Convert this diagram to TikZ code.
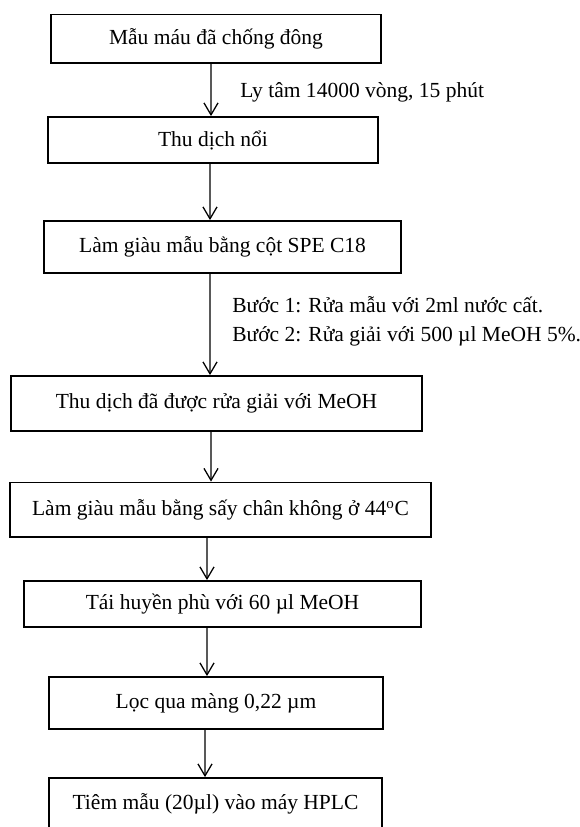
\documentclass[tikz,border=0pt]{standalone}
\usepackage{fontspec}
\setmainfont{Liberation Serif}
\usetikzlibrary{arrows.meta}

\begin{document}
\begin{tikzpicture}[x=1cm, y=1cm,
    stepbox/.style={draw, line width=1.3pt, inner sep=0pt, font=\fontsize{15.3pt}{18pt}\selectfont},
    note/.style={inner sep=0pt, anchor=west, align=left, font=\fontsize{15.3pt}{20.6pt}\selectfont},
    arr/.style={-{Straight Barb[length=8.5pt, width=10pt]}, line width=0.9pt}]
    % Page frame, the last box runs off the bottom
    \clip (0,0) rectangle (14.5,-20.675);
    % Draw process steps
    \node [stepbox, minimum width=8.25cm, minimum height=1.21cm] (b1) at (5.4,-0.969) {Mẫu máu đã chống đông};
    \node [stepbox, minimum width=8.25cm, minimum height=1.15cm] (b2) at (5.325,-3.5) {Thu dịch nổi};
    \node [stepbox, minimum width=8.925cm, minimum height=1.3cm] (b3) at (5.5625,-6.175) {Làm giàu mẫu bằng cột SPE C18};
    \node [stepbox, minimum width=10.275cm, minimum height=1.375cm] (b4) at (5.4125,-10.0875) {Thu dịch đã được rửa giải với MeOH};
    \node [stepbox, minimum width=10.525cm, minimum height=1.3625cm] (b5) at (5.5125,-12.744) {Làm giàu mẫu bằng sấy chân không ở 44\textsuperscript{o}C};
    \node [stepbox, minimum width=9.925cm, minimum height=1.15cm] (b6) at (5.5625,-15.1) {Tái huyền phù với 60 µl MeOH};
    \node [stepbox, minimum width=8.35cm, minimum height=1.3cm] (b7) at (5.4,-17.575) {Lọc qua màng 0,22 µm};
    \node [stepbox, minimum width=8.325cm, minimum height=1.3cm] (b8) at (5.3875,-20.1) {Tiêm mẫu (20µl) vào máy HPLC};
    % Draw notes beside the arrows
    \node [note] (n1) at (6.0,-2.3) {Ly tâm 14000 vòng, 15 phút};
    \node [note] (n2) at (5.8,-8.04) {Bước 1: Rửa mẫu với 2ml nước cất.\\Bước 2: Rửa giải với 500 µl MeOH 5\%.};
    % Draw arrows between steps
    \draw [arr] ([xshift=-1.25mm]b1.south) -- ([xshift=-0.5mm]b2.north);
    \draw [arr] ([xshift=-0.75mm]b2.south) -- ([xshift=-3.125mm]b3.north);
    \draw [arr] ([xshift=-3.125mm]b3.south) -- ([xshift=-1.625mm]b4.north);
    \draw [arr] ([xshift=-1.375mm]b4.south) -- ([xshift=-2.375mm]b5.north);
    \draw [arr] ([xshift=-3.375mm]b5.south) -- ([xshift=-3.875mm]b6.north);
    \draw [arr] ([xshift=-3.875mm]b6.south) -- ([xshift=-2.25mm]b7.north);
    \draw [arr] ([xshift=-2.75mm]b7.south) -- ([xshift=-2.625mm]b8.north);
\end{tikzpicture}
\end{document}
